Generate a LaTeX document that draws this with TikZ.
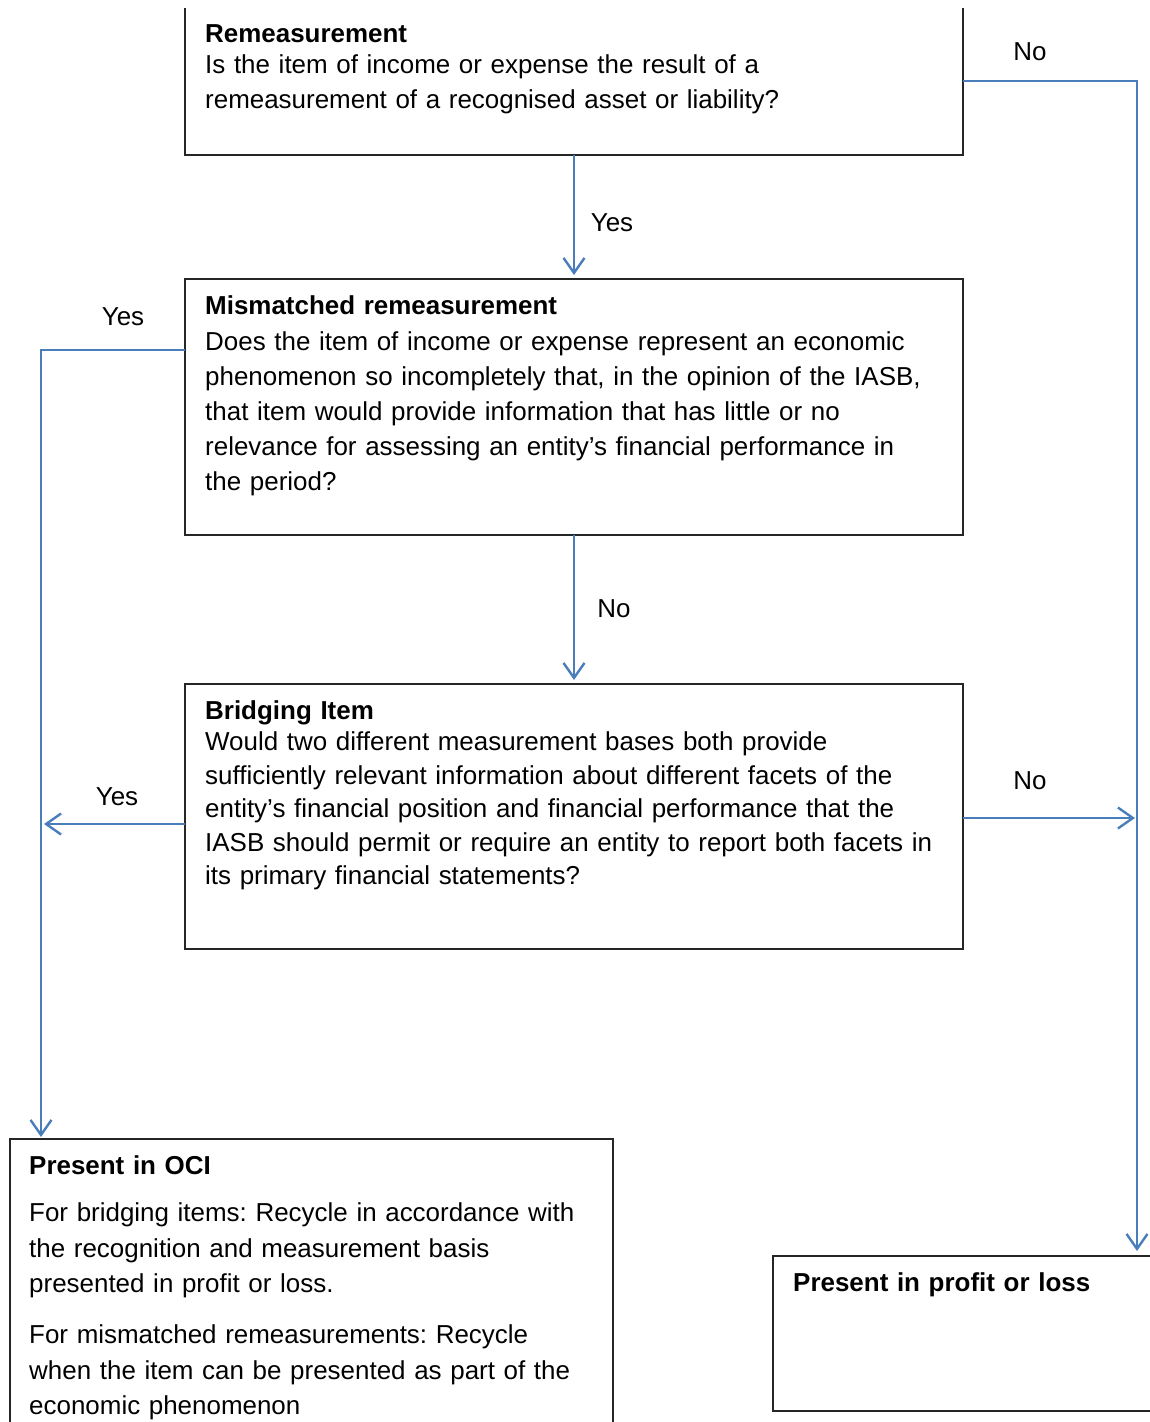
\documentclass[tikz,border=0pt]{standalone}
\usepackage{fontspec}
\setmainfont{Liberation Sans}
\usepackage{xcolor}
\usetikzlibrary{arrows.meta, calc, positioning}
\definecolor{flowblue}{RGB}{74,126,187}
\frenchspacing

\begin{document}
\begin{tikzpicture}[x=1pt, y=-1pt,
    box/.style={draw=black!85, line width=1.3pt, inner sep=0pt, outer sep=0pt, anchor=north west},
    txt/.style={anchor=north west, inner sep=0pt, text width=760pt, align=left, font=\fontsize{25.95}{35}\selectfont},
    lbl/.style={inner sep=0pt, font=\fontsize{25.95}{35}\selectfont},
    flow/.style={draw=flowblue, line width=2.4pt, -{Straight Barb[length=15pt, width=21pt]}}]
    \useasboundingbox (0,0) rectangle (1150,1422);
    \clip (0,8) rectangle (1150,1422);

    % 判断框
    \node[box, minimum width=778pt, minimum height=175pt] (remeas) at (185,-20) {};
    \node[box, minimum width=778pt, minimum height=256pt] (mismatch) at (185,279) {};
    \node[box, minimum width=778pt, minimum height=265pt] (bridge) at (185,684) {};

    % 结果框
    \node[box, minimum width=603pt, minimum height=360pt] (oci) at (10,1139) {};
    \node[box, minimum width=727pt, minimum height=155pt] (pl) at (773,1256) {};

    % 框内文字
    \node[txt] (remeas-txt) at (205,24.5) {\textbf{Remeasurement}\\[-4pt]
        Is the item of income or expense the result of a\\
        remeasurement of a recognised asset or liability?};
    \node[txt] (mismatch-txt) at (205,295.5) {\textbf{Mismatched remeasurement}\\[1pt]
        Does the item of income or expense represent an economic\\
        phenomenon so incompletely that, in the opinion of the IASB,\\
        that item would provide information that has little or no\\
        relevance for assessing an entity’s financial performance in\\
        the period?};
    \node[txt, font=\fontsize{25.95}{33.5}\selectfont] (bridge-txt) at (205,700.5) {\textbf{Bridging Item}\\[-2.5pt]
        Would two different measurement bases both provide\\
        sufficiently relevant information about different facets of the\\
        entity’s financial position and financial performance that the\\
        IASB should permit or require an entity to report both facets in\\
        its primary financial statements?};
    \node[txt, font=\fontsize{25.95}{35.5}\selectfont] (oci-txt) at (29,1155.5) {\textbf{Present in OCI}\\[11.5pt]
        For bridging items: Recycle in accordance with\\
        the recognition and measurement basis\\
        presented in profit or loss.\\[15.5pt]
        For mismatched remeasurements: Recycle\\
        when the item can be presented as part of the\\
        economic phenomenon};
    \node[txt] (pl-txt) at (793,1272.5) {\textbf{Present in profit or loss}};

    % 连线
    \coordinate (no-turn) at (1137,81);
    \coordinate (yes-turn) at (41,350);
    \draw[flow, shorten >=4pt] (remeas.south) -- (mismatch.north);
    \draw[flow, shorten >=4pt] (mismatch.south) -- (bridge.north);
    \draw[flow, shorten >=5pt] (remeas.east |- no-turn) -- (no-turn) -- (no-turn |- pl.north);
    \draw[flow, shorten >=2pt] (mismatch.west |- yes-turn) -- (yes-turn) -- (yes-turn |- oci.north);
    \draw[flow, shorten >=3pt] ([yshift=-7.5pt]bridge.west) -- ([yshift=-7.5pt]bridge.west -| yes-turn);
    \draw[flow, shorten >=2pt] ([yshift=-1.5pt]bridge.east) -- ([yshift=-1.5pt]bridge.east -| no-turn);

    % 标签
    \node[lbl] (yes-a) at (612,223) {Yes};
    \node[lbl] (no-a) at (1030,52) {No};
    \node[lbl] (yes-b) at (123,317) {Yes};
    \node[lbl] (no-b) at (614,609) {No};
    \node[lbl] (yes-c) at (117,797) {Yes};
    \node[lbl] (no-c) at (1030,781) {No};
\end{tikzpicture}
\end{document}
